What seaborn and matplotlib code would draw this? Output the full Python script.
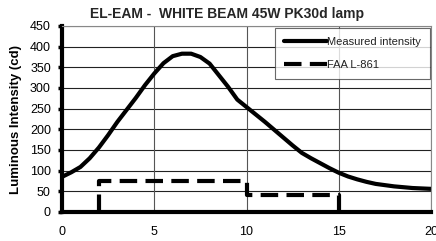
import matplotlib
matplotlib.use("Agg")
import matplotlib.pyplot as plt
import seaborn as sns
import pandas as pd

angle = [0, 0.5, 1, 1.5, 2, 2.5, 3, 3.5, 4, 4.5, 5, 5.5, 6, 6.5, 7, 7.5, 8, 8.5, 9, 9.5,
         10, 10.5, 11, 11.5, 12, 12.5, 13, 13.5, 14, 14.5, 15, 15.5, 16, 16.5, 17, 17.5,
         18, 18.5, 19, 19.5, 20]
measured = [85, 96, 109, 130, 156, 186, 218, 247, 276, 307, 335, 360, 377, 383, 383, 375,
            359, 331, 303, 272, 254, 236, 218, 199, 180, 161, 143, 130, 118, 106, 95, 86,
            79, 73, 68, 65, 62, 60, 58, 57, 56]

faa_angle = [2, 2, 10, 10, 15, 15]
faa_value = [0, 75, 75, 40, 40, 0]

title = "EL-EAM -  WHITE BEAM 45W PK30d lamp"
ylabel = "Luminous Intensity (cd)"
yticks = [0, 50, 100, 150, 200, 250, 300, 350, 400, 450]
xticks = [0, 5, 10, 15, 20]

sns.set_theme(style="white")
plt.rcParams['font.family'] = ['Liberation Sans', 'DejaVu Sans']

fig = plt.figure(figsize=(4.36, 2.41), dpi=100)
ax = fig.add_axes([62/436, 1 - 212/241, 369/436, 186/241])

df_m = pd.DataFrame({"x": angle, "y": measured})
df_f = pd.DataFrame({"x": faa_angle, "y": faa_value})

for yv in yticks[1:]:
    ax.axhline(yv, color="#222222", lw=0.8, zorder=0)
for xv in xticks[1:]:
    ax.axvline(xv, color="#555555", lw=0.8, zorder=0)

sns.lineplot(data=df_m, x="x", y="y", ax=ax, color="black", lw=3.0,
             label="Measured intensity", sort=False, estimator=None)
sns.lineplot(data=df_f, x="x", y="y", ax=ax, color="black", lw=3.0,
             label="FAA L-861", sort=False, estimator=None)
ax.lines[-1].set_dashes([4.2, 2.0])
ax.lines[-1].set_dash_capstyle("butt")
ax.lines[0].set_solid_capstyle("round")

ax.set_xlim(0, 20)
ax.set_ylim(0, 450)
ax.set_xticks(xticks)
ax.set_yticks(yticks)
ax.set_xlabel("")
ax.set_ylabel(ylabel, fontsize=9.5, fontweight="bold", labelpad=6)
ax.tick_params(axis="x", labelsize=9, pad=10, length=0, colors="black")
ax.tick_params(axis="y", labelsize=9, pad=5, length=3, width=2.5, direction="out", left=True, colors="black")
ax.yaxis.label.set_color("black")

for s in ["top", "right"]:
    ax.spines[s].set_visible(True)
    ax.spines[s].set_color("#888888")
    ax.spines[s].set_linewidth(0.8)
ax.spines["left"].set_color("black")
ax.spines["left"].set_linewidth(3)
ax.spines["bottom"].set_color("black")
ax.spines["bottom"].set_linewidth(3)

leg = ax.legend(loc="upper right", bbox_to_anchor=(0.997, 0.99), fontsize=8,
                frameon=True, fancybox=False, edgecolor="#444444",
                handlelength=3.8, handletextpad=0.05, labelspacing=1.2,
                borderpad=0.8, borderaxespad=0)
leg.get_frame().set_linewidth(0.8)
for t in leg.get_texts():
    t.set_color("#222222")

fig.text(227/436, 1 - 14/241, title, ha="center", va="center", fontsize=10, fontweight="bold")

fig.savefig("out.png", dpi=100)
